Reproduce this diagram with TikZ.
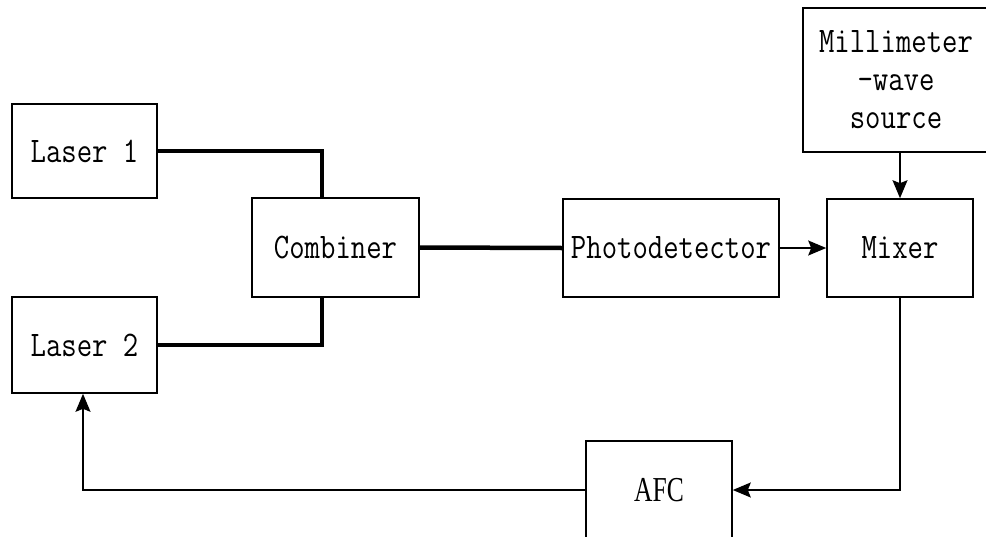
\documentclass[tikz,border=0pt]{standalone}
\usepackage{fontspec}
\usetikzlibrary{arrows.meta}
\newfontfamily\boxfont[FakeStretch=0.83]{Latin Modern Mono}
\newfontfamily\afcfont[FakeStretch=0.73]{Liberation Serif}
\tikzset{
  block/.style={draw, line width=1.6pt, inner sep=0pt, align=center,
    font=\boxfont\fontsize{36}{38}\selectfont},
  fiber/.style={line width=4.5pt},
  wire/.style={line width=1.6pt},
  sig/.style={wire, -{Stealth[length=18pt,width=15pt,inset=3pt]}}
}
\begin{document}
\begin{tikzpicture}[x=1pt,y=-1pt]
      \clip (0,0) rectangle (986,536);
      \node[block, minimum width=145pt, minimum height=94pt] (laser1) at (84.5,151) {Laser 1};
      \node[block, minimum width=145pt, minimum height=96pt] (laser2) at (84.5,345) {Laser 2};
      \node[block, minimum width=167pt, minimum height=99pt] (comb) at (335.5,247.5) {Combiner};
      \node[block, minimum width=216pt, minimum height=98pt] (pd) at (671,248) {Photodetector};
      \node[block, minimum width=146pt, minimum height=98pt] (mixer) at (900,248) {Mixer};
      \node[block, minimum width=186pt, minimum height=144pt] (mmw) at (896,80)
        {Millimeter\\-wave\\source};
      \node[block, minimum width=146pt, minimum height=98pt,
        font=\afcfont\fontsize{35}{38}\selectfont] (afc) at (659,490) {AFC};
      \coordinate (cin) at ([xshift=71pt]comb.north west);
      \coordinate (cin2) at ([xshift=71pt]comb.south west);
      \begin{scope}[fiber]
        \draw (laser1.east) -| (cin);
        \draw (laser2.east) -| (cin2);
        \draw (comb.east) -- (pd.west);
      \end{scope}
      \begin{scope}[sig]
        \draw (pd.east) -- (mixer.west);
        \draw (mmw.south -| mixer.north) -- (mixer.north);
        \draw (mixer.south) |- (afc.east);
        \draw (afc.west) -| ([xshift=-1.5pt]laser2.south);
      \end{scope}
    \end{tikzpicture}
\end{document}
